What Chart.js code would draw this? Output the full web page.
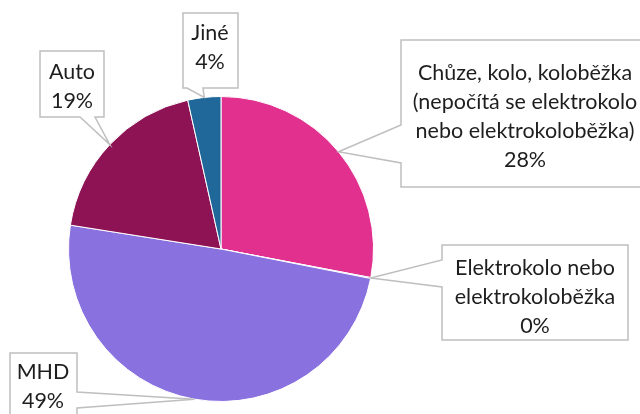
<!DOCTYPE html>
<html lang="cs">
<head>
<meta charset="UTF-8">
<title>Doprava</title>
<script src="https://cdn.jsdelivr.net/npm/chart.js"></script>
<style>
  html, body { margin: 0; padding: 0; background: #fff; overflow: hidden; }
  #wrap { width: 640px; height: 414px; }
</style>
</head>
<body>
<div id="wrap"><canvas id="pie" width="640" height="414"></canvas></div>
<script>
// data
const categories = [
  "Chůze, kolo, koloběžka (nepočítá se elektrokolo nebo elektrokoloběžka)",
  "Elektrokolo nebo elektrokoloběžka",
  "MHD",
  "Auto",
  "Jiné"
];
const shares = [28.0, 0.1, 49.4, 19.0, 3.5];
const sliceColors = ["#E2308F", "#2F8FC8", "#8A71E0", "#8E1355", "#21689A"];
// how each label is broken into lines
const labelLines = [
  ["Chůze, kolo, koloběžka", "(nepočítá se elektrokolo", "nebo elektrokoloběžka)"],
  ["Elektrokolo nebo", "elektrokoloběžka"],
  ["MHD"],
  ["Auto"],
  ["Jiné"]
];

// callout boxes: rect, which side the pointer leaves from, pointer base span
const callouts = [
  { x0: 401, y0: 40, x1: 652, y1: 187, side: "left", b1: 125, b2: 163, cx: 525, cy: 117 },
  { x0: 442, y0: 245, x1: 628, y1: 340, side: "left", b1: 260, b2: 287, cx: 535, cy: 297 },
  { x0: 10, y0: 353, x1: 77, y1: 440, side: "right", b1: 392, b2: 408, cx: 43, cy: 387 },
  { x0: 40, y0: 51, x1: 104, y1: 117, side: "bottom", b1: 80, b2: 95, cx: 72, cy: 87 },
  { x0: 183, y0: 13, x1: 238, y1: 88, side: "bottom", b1: 187, b2: 203, cx: 210, cy: 48 }
];

const FONT = '21.5px Lato, "Noto Sans", sans-serif';
const LINE_H = 29;

const calloutPlugin = {
  id: "callouts",
  afterDatasetsDraw(chart) {
    const ctx = chart.ctx;
    const meta = chart.getDatasetMeta(0);
    ctx.save();
    meta.data.forEach((arc, i) => {
      const p = arc.getProps(["x", "y", "startAngle", "endAngle", "outerRadius"], true);
      const mid = (p.startAngle + p.endAngle) / 2;
      const ax = p.x + Math.cos(mid) * p.outerRadius;
      const ay = p.y + Math.sin(mid) * p.outerRadius;
      const c = callouts[i];

      ctx.beginPath();
      if (c.side === "left") {
        ctx.moveTo(c.x0, c.y0);
        ctx.lineTo(c.x1, c.y0);
        ctx.lineTo(c.x1, c.y1);
        ctx.lineTo(c.x0, c.y1);
        ctx.lineTo(c.x0, c.b2);
        ctx.lineTo(ax, ay);
        ctx.lineTo(c.x0, c.b1);
      } else if (c.side === "right") {
        ctx.moveTo(c.x0, c.y0);
        ctx.lineTo(c.x1, c.y0);
        ctx.lineTo(c.x1, c.b1);
        ctx.lineTo(ax, ay);
        ctx.lineTo(c.x1, c.b2);
        ctx.lineTo(c.x1, c.y1);
        ctx.lineTo(c.x0, c.y1);
      } else {
        ctx.moveTo(c.x0, c.y0);
        ctx.lineTo(c.x1, c.y0);
        ctx.lineTo(c.x1, c.y1);
        ctx.lineTo(c.b2, c.y1);
        ctx.lineTo(ax, ay);
        ctx.lineTo(c.b1, c.y1);
        ctx.lineTo(c.x0, c.y1);
      }
      ctx.closePath();
      ctx.fillStyle = "#fff";
      ctx.fill();
      ctx.strokeStyle = "#BFBFBF";
      ctx.lineWidth = 1.5;
      ctx.stroke();

      const lines = labelLines[i].concat([Math.round(shares[i]) + "%"]);
      ctx.font = FONT;
      ctx.fillStyle = "#1E1E1E";
      ctx.textAlign = "center";
      ctx.textBaseline = "middle";
      const top = c.cy - (lines.length - 1) * LINE_H / 2;
      lines.forEach((t, k) => ctx.fillText(t, c.cx, top + k * LINE_H));
    });
    ctx.restore();
  }
};

new Chart(document.getElementById("pie"), {
  type: "pie",
  data: {
    labels: categories,
    datasets: [{
      data: shares,
      backgroundColor: sliceColors,
      borderColor: "#fff",
      borderWidth: 1
    }]
  },
  options: {
    responsive: false,
    devicePixelRatio: 1,
    animation: false,
    layout: { padding: { left: 68, right: 266, top: 96, bottom: 12 } },
    plugins: {
      legend: { display: false },
      tooltip: { enabled: false }
    }
  },
  plugins: [calloutPlugin]
});
</script>
</body>
</html>
